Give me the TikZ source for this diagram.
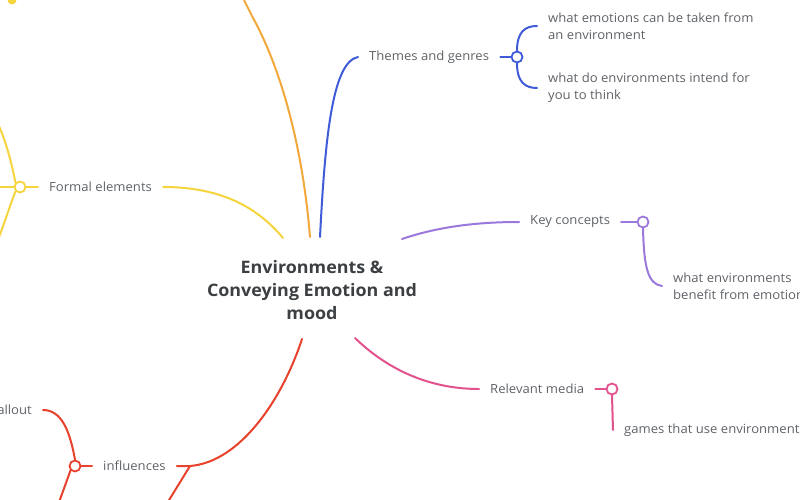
\documentclass[tikz,border=0pt]{standalone}
\usepackage{fontspec}
\setmainfont[FakeStretch=1.04]{Open Sans}
\begin{document}
\begin{tikzpicture}[x=1pt,y=-1pt,
  br/.style={draw=#1,line width=2pt,line cap=round},
  hub/.style={circle,draw=#1,line width=1.8pt,fill=white,minimum size=11pt,inner sep=0pt},
  lbl/.style={anchor=west,inner xsep=11pt,inner ysep=0pt,text=txtgray,font=\fontsize{12.6}{17}\selectfont},
  leaf/.style={anchor=west,inner xsep=11pt,inner ysep=0pt,text=txtgray,align=left,font=\fontsize{12.6}{17}\selectfont},
  maintext/.style={align=center,text=maingray,font=\bfseries\fontsize{17.2}{23}\selectfont,inner sep=0pt}
]
\definecolor{txtgray}{HTML}{5F6368}
\definecolor{maingray}{HTML}{3C4043}
\definecolor{corange}{HTML}{F2A83A}
\definecolor{cyellow}{HTML}{F5D43E}
\definecolor{cblue}{HTML}{3F5BD8}
\definecolor{cpurple}{HTML}{9B78DC}
\definecolor{cpink}{HTML}{E2528C}
\definecolor{cred}{HTML}{E8412C}
\useasboundingbox (0,0) rectangle (800,500);
\clip (0,0) rectangle (800,500);
\fill[white] (0,0) rectangle (800,500);

% center
\node[maintext] (c) at (312,290) {Environments \&\\Conveying Emotion and\\mood};
\coordinate (cO) at (310,237);
\coordinate (cY) at (283,238);
\coordinate (cB) at (320,237);
\coordinate (cP) at (402,239);
\coordinate (cK) at (355,338);
\coordinate (cR) at (302,339);

% labels
\node[lbl] (formal) at (38,187) {Formal elements};
\node[lbl] (themes) at (358,57) {Themes and genres};
\node[lbl] (key) at (519,222) {Key concepts};
\node[lbl] (media) at (479,389) {Relevant media};
\node[lbl] (infl) at (92,466) {influences};

% hubs
\node[hub=cyellow] (hY) at (20,187) {};
\node[hub=cblue] (hB) at (517,57) {};
\node[hub=cpurple] (hP) at (643,222) {};
\node[hub=cpink] (hK) at (612,389) {};
\node[hub=cred] (hR) at (75,466) {};

% leaves
\node[leaf] (b1) at (537,26) {what emotions can be taken from\\an environment};
\node[leaf] (b2) at (537,88) {what do environments intend for\\you to think};
\node[leaf] (p1) at (662,286) {what environments\\benefit from emotions};
\node[leaf] (k1) at (613,430) {games that use environments};
\node[leaf,anchor=east] (r1) at (43,410) {Fallout};

% off-canvas ends
\coordinate (oTop) at (242,-4);
\coordinate (yL) at (-4,187);
\coordinate (yU) at (-3,122);
\coordinate (yD) at (-3,242);
\coordinate (rD) at (58,505);
\coordinate (rJ) at (190,466);
\coordinate (rD2) at (166,505);

% orange branch (off canvas)
\draw[br=corange] (cO) .. controls (303,150) and (282,70) .. (252,16) .. controls (248,8) .. (oTop);
% yellow
\draw[br=cyellow] (cY) .. controls (258,208) and (222,187) .. (formal.east);
\draw[br=cyellow] (formal.west) -- (hY);
\draw[br=cyellow] (hY) -- (yL);
\draw[br=cyellow] (hY.north west) .. controls (12,165) and (6,140) .. (yU);
\draw[br=cyellow] (hY.south west) .. controls (10,205) and (4,225) .. (yD);
\fill[cyellow] (12,0) circle (4.5pt);
% blue
\draw[br=cblue] (cB) .. controls (325,140) and (332,62) .. (themes.west);
\draw[br=cblue] (themes.east) -- (hB);
\draw[br=cblue] (hB.north) .. controls (517,32) and (525,26) .. (b1.west);
\draw[br=cblue] (hB.south) .. controls (517,82) and (525,88) .. (b2.west);
% purple
\draw[br=cpurple] (cP) .. controls (440,226) and (480,222) .. (key.west);
\draw[br=cpurple] (key.east) -- (hP);
\draw[br=cpurple] (hP.south) .. controls (644,268) and (648,284) .. (p1.west);
% pink
\draw[br=cpink] (cK) .. controls (388,370) and (430,389) .. (media.west);
\draw[br=cpink] (media.east) -- (hK);
\draw[br=cpink] (hK.south) -- (k1.west);
% red
\draw[br=cred] (cR) .. controls (282,400) and (240,462) .. (rJ) -- (infl.east);
\draw[br=cred] (rJ) -- (rD2);
\draw[br=cred] (infl.west) -- (hR);
\draw[br=cred] (hR.north) .. controls (70,432) and (62,410) .. (r1.east);
\draw[br=cred] (hR.south west) -- (rD);
\end{tikzpicture}
\end{document}
